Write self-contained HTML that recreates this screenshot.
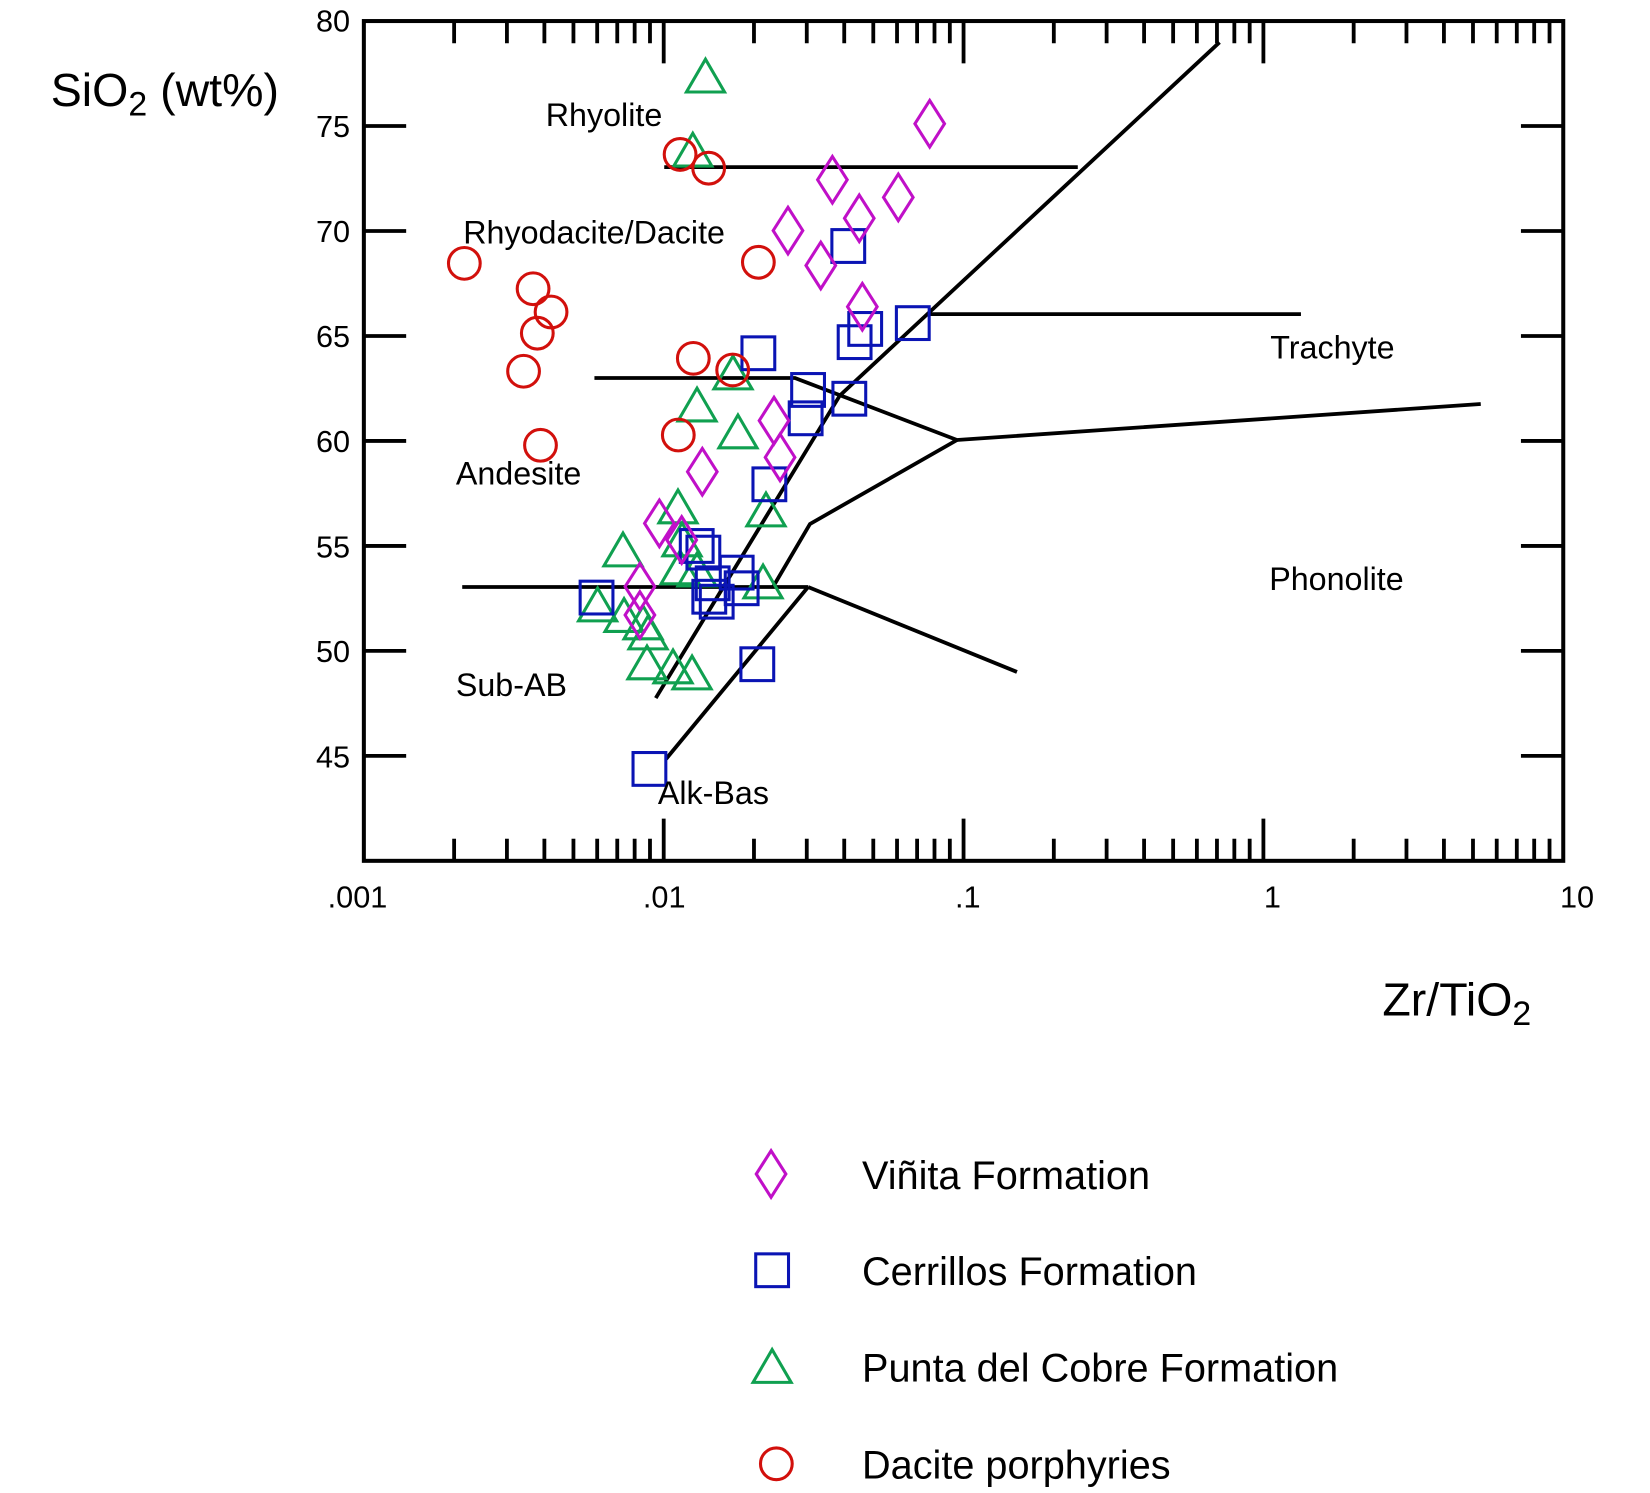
<!DOCTYPE html>
<html><head><meta charset="utf-8"><style>
html,body{margin:0;padding:0;background:#fff}
svg{display:block}
text{font-family:"Liberation Sans",Arial,sans-serif;fill:#000}
</style></head><body>
<svg id="s" width="1650" height="1493" viewBox="0 0 1560 1411.6" xmlns="http://www.w3.org/2000/svg">
<g id="ticks" stroke="#000" stroke-width="3.6" fill="none"></g>
<rect x="344" y="19.9" width="1134" height="794" fill="none" stroke="#000" stroke-width="3.8"/>
<g stroke="#000" stroke-width="3.6" fill="none" stroke-linejoin="miter">
<line x1="628" y1="158" x2="1019" y2="158"/>
<polyline points="620,660 794,374 1153,40"/>
<polyline points="562,357.4 751.6,357.4 904.8,416 1400,382"/>
<polyline points="904.8,416 765.8,495.4 730.8,555"/>
<line x1="437" y1="555" x2="764" y2="555"/>
<line x1="764" y1="555" x2="629.7" y2="717.6"/>
<line x1="764" y1="555" x2="961.5" y2="635.3"/>
<line x1="879" y1="297" x2="1230" y2="297"/>
</g>
<g id="m" fill="none" stroke-width="2.9"></g>
<g font-size="29">
<text x="331" y="30" text-anchor="end">80</text>
<text x="331" y="129.5" text-anchor="end">75</text>
<text x="331" y="229" text-anchor="end">70</text>
<text x="331" y="328" text-anchor="end">65</text>
<text x="331" y="427.5" text-anchor="end">60</text>
<text x="331" y="527" text-anchor="end">55</text>
<text x="331" y="626" text-anchor="end">50</text>
<text x="331" y="725.5" text-anchor="end">45</text>
<text x="338" y="858" text-anchor="middle">.001</text>
<text x="628" y="858" text-anchor="middle">.01</text>
<text x="915" y="858" text-anchor="middle">.1</text>
<text x="1203" y="858" text-anchor="middle">1</text>
<text x="1491" y="858" text-anchor="middle">10</text>
</g>
<g font-size="30.5">
<text x="516" y="119">Rhyolite</text>
<text x="438" y="230">Rhyodacite/Dacite</text>
<text x="431" y="458">Andesite</text>
<text x="431" y="658">Sub-AB</text>
<text x="622" y="760">Alk-Bas</text>
<text x="1201" y="339">Trachyte</text>
<text x="1200" y="558">Phonolite</text>
</g>
<text x="48" y="100" font-size="44">SiO<tspan font-size="32" dy="9">2</tspan><tspan dy="-9"> (wt%)</tspan></text>
<text x="1307" y="960" font-size="44">Zr/TiO<tspan font-size="32" dy="9">2</tspan></text>
<g font-size="37.5">
<text x="815" y="1124">Viñita Formation</text>
<text x="815" y="1215">Cerrillos Formation</text>
<text x="815" y="1306">Punta del Cobre Formation</text>
<text x="815" y="1398">Dacite porphyries</text>
</g>
</svg>
<script>
var NS="http://www.w3.org/2000/svg";
var t=document.getElementById("ticks"),m=document.getElementById("m");
function L(g,x1,y1,x2,y2){var e=document.createElementNS(NS,"line");e.setAttribute("x1",x1);e.setAttribute("y1",y1);e.setAttribute("x2",x2);e.setAttribute("y2",y2);g.appendChild(e);}
var X0=344,D=283.5,T=19.9,B=814;
for(var d=0;d<4;d++){for(var k=1;k<=9;k++){var x=X0+D*(d+Math.log10(k));var len=(k==1)?40:21;if(d==0&&k==1)continue;L(t,x,B,x,B-len);L(t,x,T,x,T+len);}}
for(var v=45;v<=75;v+=5){var y=T+(80-v)*19.85;L(t,X0,y,X0+40,y);L(t,1478,y,1438,y);}
function sq(x,y){var e=document.createElementNS(NS,"rect");e.setAttribute("x",x-15.5);e.setAttribute("y",y-15.5);e.setAttribute("width",31);e.setAttribute("height",31);e.setAttribute("stroke","#0a14b4");m.appendChild(e);}
function ci(x,y){var e=document.createElementNS(NS,"circle");e.setAttribute("cx",x);e.setAttribute("cy",y);e.setAttribute("r",15);e.setAttribute("stroke","#d2100c");m.appendChild(e);}
function tr(x,y){var e=document.createElementNS(NS,"polygon");e.setAttribute("points",(x-18)+","+(y+15)+" "+(x+18)+","+(y+15)+" "+x+","+(y-16));e.setAttribute("stroke","#10a050");m.appendChild(e);}
function di(x,y){var e=document.createElementNS(NS,"polygon");e.setAttribute("points",x+","+(y-22)+" "+(x+14)+","+y+" "+x+","+(y+22)+" "+(x-14)+","+y);e.setAttribute("stroke","#c010c8");m.appendChild(e);}
[[667,72],[655,142],[693,352.7],[659,383],[697.7,408.4],[724.2,482.2],[641,479.3],[644.8,510.5],[643,537],[659,539],[721.4,550.3],[589,520],[565,572],[590,582],[608,589],[612.7,598.5],[611.7,626.8],[636.3,630.6],[654.3,636.3]].forEach(function(p){tr(p[0],p[1]);});
[[802,232.6],[717,334],[764,368.7],[761.7,395.5],[803,377],[727.4,457.9],[658.7,516.2],[665,522.5],[696.5,541.4],[701.2,556.2],[673.8,551.5],[670.6,564.2],[677.6,568.9],[716,628],[863,305.5],[818,311],[808,323.5],[564,565],[614,727]].forEach(function(p){sq(p[0],p[1]);});
[[879,117],[787,170],[849.3,186.6],[812.4,206.4],[745,218],[776,251],[815.3,290],[731.8,397.7],[737.5,432.4],[664,446],[623.4,494.8],[644.5,510.5],[605,554.7],[605,581.5]].forEach(function(p){di(p[0],p[1]);});
[[439,249],[504,273],[521,295],[508,315],[495,351],[511,421],[643,146],[670,159],[717,248],[655.5,338.8],[692.7,349.8],[641.3,411.3]].forEach(function(p){ci(p[0],p[1]);});
di(729,1110);sq(730,1201);tr(730,1292);ci(734,1384);
</script>
</body></html>
